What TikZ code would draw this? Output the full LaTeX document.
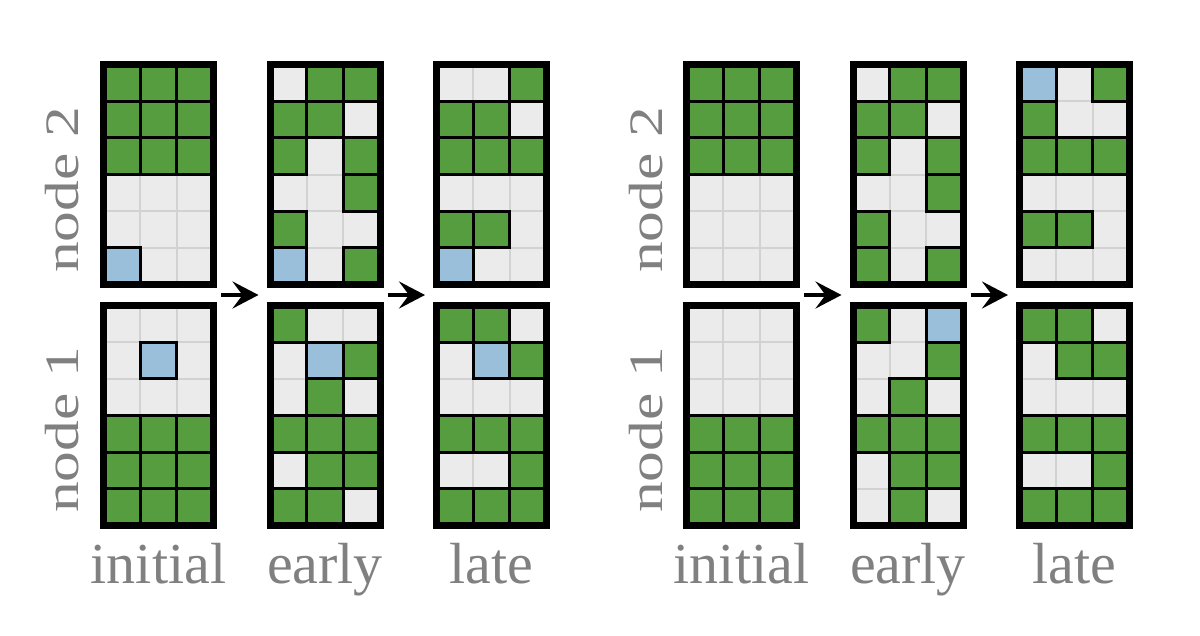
\documentclass[tikz,border=0pt]{standalone}
\usepackage{fontspec}
\setmainfont{Liberation Serif}
\usetikzlibrary{arrows.meta,calc}
\definecolor{leafG}{RGB}{85,157,63}
\definecolor{skyB}{RGB}{154,191,219}
\definecolor{paper}{RGB}{235,235,235}
\definecolor{rule}{RGB}{210,210,210}
\definecolor{ash}{RGB}{128,128,128}
\tikzset{
  gridline/.style={draw=rule,line width=2},
  cellline/.style={draw=black,line width=3.3},
  frame/.style={draw=black,line width=7,minimum width=110pt,minimum height=220pt,inner sep=0pt},
  flow/.style={-{Stealth[length=26pt,width=27pt,inset=10pt]},line width=4,draw=black},
  lbl/.style={font=\fontsize{58}{62}\selectfont,text=ash,inner sep=0pt},
  side/.style={text=ash,inner sep=0pt,font=\fontsize{48}{52}\selectfont,rotate=90,xscale=1.28,anchor=base},
  % one 3x6 board, rows from the top: G green, B blue, W empty
  pics/board/.style={code={
    \fill[paper] (0,0) rectangle (110,220);
    \foreach \ii in {1,2} \draw[gridline] (\ii*36.667,0) -- ++(0,220);
    \foreach \ii in {1,...,5} \draw[gridline] (0,\ii*36.667) -- ++(110,0);
    \foreach \ca/\cb/\cc [count=\rr] in {#1} {
      \foreach \ct [count=\kk] in {\ca,\cb,\cc} {
        \if\ct W\else
          \draw[cellline,fill=tone\ct] ({(\kk-1)*36.667},{(\rr-1)*36.667}) rectangle ++(36.667,36.667);
        \fi
      }
    }
    \node[frame] (-f) at (55,110) {};
  }},
}
\colorlet{toneG}{leafG}
\colorlet{toneB}{skyB}

\begin{document}
\begin{tikzpicture}[x=1pt,y=-1pt]
  \useasboundingbox (0,0) rectangle (1200,635);
  % left run
  \pic (L1t) at (103.5,64.5) {board={G/G/G,G/G/G,G/G/G,W/W/W,W/W/W,B/W/W}};
  \pic (L1b) at (103.5,305.5) {board={W/W/W,W/B/W,W/W/W,G/G/G,G/G/G,G/G/G}};
  \pic (L2t) at (270,64.5) {board={W/G/G,G/G/W,G/W/G,W/W/G,G/W/W,B/W/G}};
  \pic (L2b) at (270,305.5) {board={G/W/W,W/B/G,W/G/W,G/G/G,W/G/G,G/G/W}};
  \pic (L3t) at (436.5,64.5) {board={W/W/G,G/G/W,G/G/G,W/W/W,G/G/W,B/W/W}};
  \pic (L3b) at (436.5,305.5) {board={G/G/W,W/B/G,W/W/W,G/G/G,W/W/G,G/G/G}};
  % right run
  \pic (R1t) at (686.5,64.5) {board={G/G/G,G/G/G,G/G/G,W/W/W,W/W/W,W/W/W}};
  \pic (R1b) at (686.5,305.5) {board={W/W/W,W/W/W,W/W/W,G/G/G,G/G/G,G/G/G}};
  \pic (R2t) at (853,64.5) {board={W/G/G,G/G/W,G/W/G,W/W/G,G/W/W,G/W/G}};
  \pic (R2b) at (853,305.5) {board={G/W/B,W/W/G,W/G/W,G/G/G,W/G/G,W/G/W}};
  \pic (R3t) at (1019.5,64.5) {board={B/W/G,G/W/W,G/G/G,W/W/W,G/G/W,W/W/W}};
  \pic (R3b) at (1019.5,305.5) {board={G/G/W,W/G/G,W/W/W,G/G/G,W/W/G,G/G/G}};

  \foreach \from/\to [count=\n] in {L1/L2,L2/L3,R1/R2,R2/R3} {
    \coordinate (s\n) at ($(\from t-f.south east)!.5!(\from b-f.north east)+(4,0)$);
    \coordinate (e\n) at ($(\to t-f.south west)!.5!(\to b-f.north west)+(-8,0)$);
    \draw[flow] (s\n) -- (e\n);
  }

  \node[side] (n2L) at (78,190) {node 2};
  \node[side] (n1L) at (78,430) {node 1};
  \node[side] (n2R) at (662,190) {node 2};
  \node[side] (n1R) at (662,430) {node 1};
  \node[lbl,anchor=base] (iniL) at (158.5,583) {initial};
  \node[lbl,anchor=base] (earL) at (325,583) {early};
  \node[lbl,anchor=base] (latL) at (491.5,583) {late};
  \node[lbl,anchor=base] (iniR) at (741.5,583) {initial};
  \node[lbl,anchor=base] (earR) at (908,583) {early};
  \node[lbl,anchor=base] (latR) at (1074.5,583) {late};
\end{tikzpicture}
\end{document}
